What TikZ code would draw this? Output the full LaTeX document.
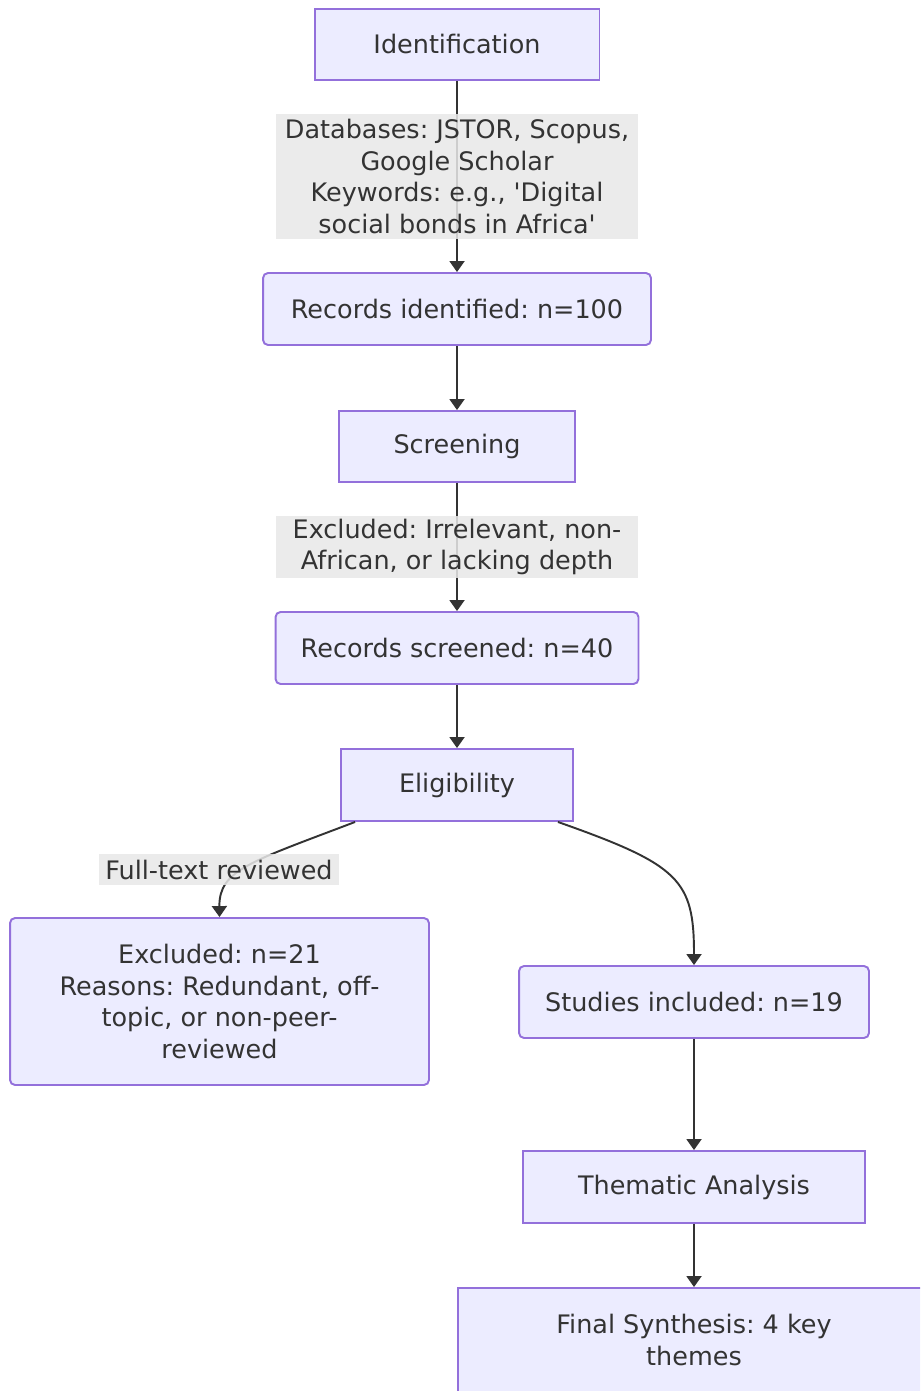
\documentclass[tikz,border=0pt]{standalone}
\usepackage{fontspec}
\setmainfont{DejaVu Sans}
\usetikzlibrary{arrows.meta}
\frenchspacing

\definecolor{boxfill}{HTML}{ECECFF}
\definecolor{boxline}{HTML}{9370DB}
\definecolor{lblfill}{HTML}{E8E8E8}
\definecolor{inkgray}{HTML}{333333}

\tikzset{
  stage/.style={draw=boxline, fill=boxfill, line width=1.1pt, inner sep=0pt,
    align=center, text=inkgray, font=\fontsize{14.5}{18}\selectfont},
  record/.style={stage, rounded corners=0.1cm},
  edgelabel/.style={fill=lblfill, fill opacity=0.85, text opacity=1, inner sep=0pt,
    align=center, text=inkgray, font=\fontsize{14.5}{18}\selectfont},
  flow/.style={draw=inkgray, line width=1.1pt, -{Triangle[length=0.22cm,width=0.3cm]}}
}

\begin{document}
\begin{tikzpicture}[x=0.02cm, y=-0.02cm]
\useasboundingbox (0,0) rectangle (920,1391);
\clip (0,0) rectangle (920,1391);

% stages of the review
\node[stage, minimum width=5.7cm, minimum height=1.42cm] (ident) at (457,44.5) {Identification};
\node[record, minimum width=7.76cm, minimum height=1.44cm] (recid) at (457,309) {Records identified: n=100};
\node[stage, minimum width=4.72cm, minimum height=1.42cm] (screen) at (457,446.5) {Screening};
\node[record, minimum width=7.26cm, minimum height=1.44cm] (recscr) at (457,648) {Records screened: n=40};
\node[stage, minimum width=4.64cm, minimum height=1.44cm] (elig) at (457,785) {Eligibility};
\node[record, minimum width=8.38cm, minimum height=3.34cm] (excl) at (219.5,1001.5) {Excluded: n=21\\Reasons: Redundant, off-\\topic, or non-peer-\\reviewed};
\node[record, minimum width=7.0cm, minimum height=1.44cm] (incl) at (694,1002) {Studies included: n=19};
\node[stage, minimum width=6.84cm, minimum height=1.44cm] (thema) at (694,1187) {Thematic Analysis};
\node[stage, minimum width=9.44cm, minimum height=2.08cm] (final) at (694,1340) {Final Synthesis: 4 key\\themes};

% connectors
\draw[flow] (ident) -- (recid) node[edgelabel, midway, minimum width=7.26cm, minimum height=2.52cm]
  {Databases: JSTOR, Scopus,\\Google Scholar\\Keywords: e.g., \textquotesingle Digital\\social bonds in Africa\textquotesingle};
\draw[flow] (recid) -- (screen);
\draw[flow] (screen) -- (recscr) node[edgelabel, midway, minimum width=7.26cm, minimum height=1.26cm]
  {Excluded: Irrelevant, non-\\African, or lacking depth};
\draw[flow] (recscr) -- (elig);
\draw[flow] ([xshift=0.3cm]elig.south west) .. controls (250,862) and (219,870) .. (excl.north);
\node[edgelabel, minimum width=4.8cm, minimum height=0.62cm] (fulltext) at (219,869.5) {Full-text reviewed};
\draw[flow] ([xshift=-0.32cm]elig.south east) .. controls (680,865) and (694,880) .. (incl.north);
\draw[flow] (incl) -- (thema);
\draw[flow] (thema) -- (final);

\end{tikzpicture}
\end{document}
